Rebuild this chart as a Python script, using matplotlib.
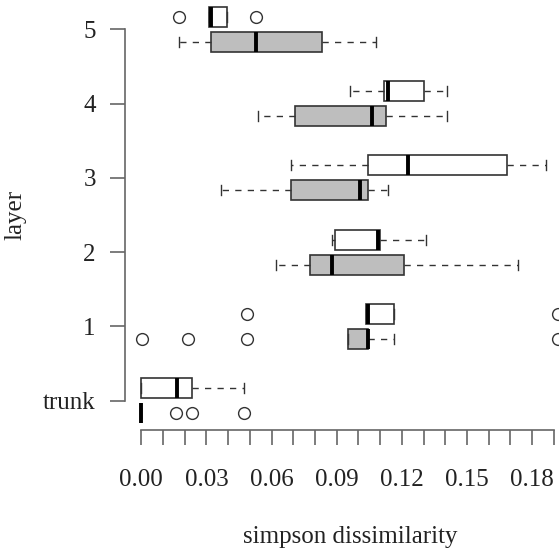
import matplotlib
matplotlib.use("Agg")
import matplotlib.pyplot as plt
from matplotlib.ticker import MultipleLocator

plt.rcParams['font.family'] = ['Liberation Serif', 'DejaVu Serif']

# layers from bottom to top
layers = ["trunk", "1", "2", "3", "4", "5"]

# white boxes (upper of each pair): whislo, q1, med, q3, whishi
white_whislo = [0.0000, 0.1036, 0.0879, 0.0689, 0.0960, 0.0312]
white_q1     = [0.0000, 0.1036, 0.0890, 0.1046, 0.1117, 0.0312]
white_med    = [0.0166, 0.1042, 0.1091, 0.1226, 0.1134, 0.0319]
white_q3     = [0.0235, 0.1164, 0.1098, 0.1683, 0.1304, 0.0393]
white_whishi = [0.0473, 0.1164, 0.1313, 0.1865, 0.1407, 0.0393]
white_fliers = [[], [0.0488, 0.192], [], [], [], [0.0175, 0.0526]]

# grey boxes (lower of each pair)
grey_whislo = [0.0000, 0.0954, 0.0618, 0.0365, 0.0539, 0.0175]
grey_q1     = [0.0000, 0.0954, 0.0775, 0.0689, 0.0706, 0.0322]
grey_med    = [0.0000, 0.1042, 0.0879, 0.1008, 0.1063, 0.0528]
grey_q3     = [0.0000, 0.1045, 0.1210, 0.1046, 0.1128, 0.0833]
grey_whishi = [0.0000, 0.1163, 0.1735, 0.1137, 0.1407, 0.1079]
grey_fliers = [[0.016, 0.0235, 0.0473], [0.0002, 0.0213, 0.0488, 0.192], [], [], [], []]


def make_stats(lo, q1, med, q3, hi, fl):
    return [dict(whislo=a, q1=b, med=c, q3=d, whishi=e, fliers=f)
            for a, b, c, d, e, f in zip(lo, q1, med, q3, hi, fl)]


edge = "#333333"
axis_col = "#666666"
text_col = "#222222"

fig = plt.figure(figsize=(5.59, 5.58), dpi=100)
ax = fig.add_axes([125 / 559, 128 / 558, 450 / 559, 430 / 558])

pos = list(range(1, len(layers) + 1))
offset = 0.168
width = 0.27

for stats, shift, fill in [
    (make_stats(white_whislo, white_q1, white_med, white_q3, white_whishi, white_fliers), offset, "white"),
    (make_stats(grey_whislo, grey_q1, grey_med, grey_q3, grey_whishi, grey_fliers), -offset, "#bebebe"),
]:
    ax.bxp(stats, positions=[p + shift for p in pos], widths=width,
           orientation='horizontal', patch_artist=True,
           boxprops=dict(facecolor=fill, edgecolor=edge, linewidth=1.2),
           medianprops=dict(color="black", linewidth=2.8, solid_capstyle='butt'),
           whiskerprops=dict(color=edge, linewidth=1.0, linestyle=(0, (4.5, 4.5))),
           capprops=dict(color=edge, linewidth=1.0),
           capwidths=width * 0.5,
           flierprops=dict(marker='o', markerfacecolor='none', markeredgecolor=edge,
                           markersize=8.5, markeredgewidth=1.0))

ax.set_xlim(-0.0075, 0.1997)
ax.set_ylim(0.606, 6.394)

ax.spines['top'].set_visible(False)
ax.spines['right'].set_visible(False)
ax.spines['left'].set_bounds(1, 6)
ax.spines['bottom'].set_bounds(0, 0.19)
for s in ('left', 'bottom'):
    ax.spines[s].set_color(axis_col)
    ax.spines[s].set_linewidth(1.2)

ax.set_yticks(pos)
ax.set_yticklabels(layers)
ax.set_xticks([0.00, 0.03, 0.06, 0.09, 0.12, 0.15, 0.18])
ax.set_xticklabels(["0.00", "0.03", "0.06", "0.09", "0.12", "0.15", "0.18"])
ax.xaxis.set_minor_locator(MultipleLocator(0.01))

ax.tick_params(axis='x', which='both', length=11, width=1.2, color=axis_col,
               labelsize=18, labelcolor=text_col, pad=17)
ax.tick_params(axis='y', length=11, width=1.2, color=axis_col,
               labelsize=18, labelcolor=text_col, pad=10)

ax.set_xlabel("simpson dissimilarity", fontsize=18, color=text_col, labelpad=25)
ax.set_ylabel("layer", fontsize=18, color=text_col, labelpad=12)

fig.savefig("out.png", dpi=100)
